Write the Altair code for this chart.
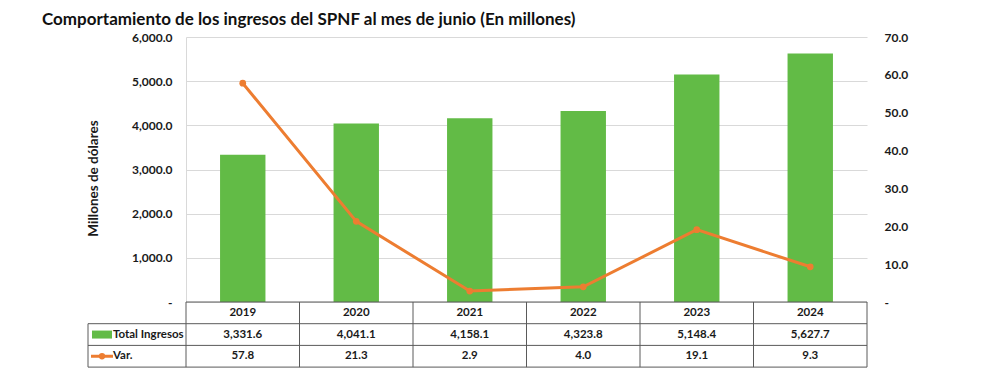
import altair as alt
import pandas as pd

# ---- data ----
years = ["2019", "2020", "2021", "2022", "2023", "2024"]
total_ingresos = [3331.6, 4041.1, 4158.1, 4323.8, 5148.4, 5627.7]
variacion = [57.8, 21.3, 2.9, 4.0, 19.1, 9.3]
series_names = ["Total Ingresos", "Var."]
left_ticks = [0, 1000, 2000, 3000, 4000, 5000, 6000]
right_ticks = [0, 10, 20, 30, 40, 50, 60, 70]
TITLE = "Comportamiento de los ingresos del SPNF al mes de junio (En millones)"
Y_TITLE = "Millones de dólares"

df = pd.DataFrame({"year": years, "total": total_ingresos, "var": variacion})
df["total_lbl"] = [f"{v:,.1f}" for v in total_ingresos]
df["var_lbl"] = [f"{v:.1f}" for v in variacion]

# ---- layout / style ----
W, H = 681, 265
ROW = 21.7
LEG_X = -98
FONT = "Lato"
GREEN = "#62bb46"
ORANGE = "#ed7d31"
GRID = "#d9d9d9"
TABLE = "#5a5a5a"
TXT = "#1a1a1a"

one = pd.DataFrame({"k": [0]})
xscale = alt.Scale(domain=years, paddingInner=0.6, paddingOuter=0.3)
X = alt.X("year:N", scale=xscale, axis=None)

bars = alt.Chart(df).mark_bar(color=GREEN).encode(
    x=X,
    y=alt.Y("total:Q", scale=alt.Scale(domain=[0, 6000]),
            axis=alt.Axis(values=left_ticks,
                          labelExpr="datum.value == 0 ? '-' : format(datum.value, ',.1f')",
                          title=Y_TITLE, grid=True, gridColor=GRID, domain=True,
                          domainColor=GRID, ticks=False, labelPadding=14,
                          labelFont=FONT, labelFontSize=12, labelFontWeight="bold",
                          labelColor=TXT, titleFont=FONT, titleFontSize=13.5,
                          titleFontWeight="bold", titleColor=TXT, titleAngle=-90,
                          titleX=-93, titleY=141, titleBaseline="middle",
                          titleAlign="center")),
)

yv = alt.Scale(domain=[0, 70])
line = alt.Chart(df).mark_line(color=ORANGE, strokeWidth=3).encode(
    x=X,
    y=alt.Y("var:Q", scale=yv,
            axis=alt.Axis(orient="right", values=right_ticks,
                          labelExpr="datum.value == 0 ? '-' : format(datum.value, '.1f')",
                          title=None, grid=False, domain=False, ticks=False,
                          labelPadding=17, labelFont=FONT, labelFontSize=12,
                          labelFontWeight="bold", labelColor=TXT)),
)
pts = alt.Chart(df).mark_point(color=ORANGE, filled=True, opacity=1, size=45).encode(
    x=X, y=alt.Y("var:Q", scale=yv, axis=None))

text_style = dict(font=FONT, fontSize=11.5, fontWeight="bold", color=TXT, baseline="middle")

hdr = alt.Chart(df).mark_text(**text_style).encode(
    x=X, y=alt.value(H + ROW / 2), text="year:N")
row1 = alt.Chart(df).mark_text(**text_style).encode(
    x=X, y=alt.value(H + 1.5 * ROW), text="total_lbl:N")
row2 = alt.Chart(df).mark_text(**text_style).encode(
    x=X, y=alt.value(H + 2.5 * ROW), text="var_lbl:N")

leg1 = alt.Chart(one).mark_text(text=series_names[0], align="left", **text_style).encode(
    x=alt.value(-73), y=alt.value(H + 1.5 * ROW))
leg2 = alt.Chart(one).mark_text(text=series_names[1], align="left", **text_style).encode(
    x=alt.value(-73), y=alt.value(H + 2.5 * ROW))
sw1 = alt.Chart(one).mark_rect(color=GREEN).encode(
    x=alt.value(-94), x2=alt.value(-74), y=alt.value(H + 1.5 * ROW - 4), y2=alt.value(H + 1.5 * ROW + 4))
sw2 = alt.Chart(one).mark_rule(color=ORANGE, strokeWidth=3).encode(
    x=alt.value(-95), x2=alt.value(-73), y=alt.value(H + 2.5 * ROW))
sw2p = alt.Chart(one).mark_point(color=ORANGE, filled=True, opacity=1, size=40).encode(
    x=alt.value(-84), y=alt.value(H + 2.5 * ROW))

# table grid lines
hlines = pd.DataFrame({
    "x1": [0, LEG_X, LEG_X, LEG_X],
    "yy": [H, H + ROW, H + 2 * ROW, H + 3 * ROW],
})
vlines = pd.DataFrame({
    "xx": [LEG_X] + [i * W / 6 for i in range(7)],
    "y1": [H + ROW] + [H] * 7,
})
hrule = alt.Chart(hlines).mark_rule(color=TABLE, strokeWidth=1).encode(
    x=alt.X("x1:Q", scale=None), x2=alt.value(W), y=alt.Y("yy:Q", scale=None))
vrule = alt.Chart(vlines).mark_rule(color=TABLE, strokeWidth=1).encode(
    x=alt.X("xx:Q", scale=None), y=alt.Y("y1:Q", scale=None), y2=alt.value(H + 3 * ROW))

title = alt.Chart(one).mark_text(text=TITLE, align="left", baseline="alphabetic",
                                 font=FONT, fontSize=17, fontWeight="bold", color="#111").encode(
    x=alt.value(-144), y=alt.value(-12))

chart = alt.layer(
    bars, line, pts, hrule, vrule, hdr, row1, row2, leg1, leg2, sw1, sw2, sw2p, title
).resolve_scale(y="independent").properties(
    width=W, height=H,
    autosize=alt.AutoSizeParams(type="none"),
    padding={"left": 178, "top": 29, "right": 115, "bottom": 66},
).configure_view(stroke=None)

chart.save("out.html", embed_options={"renderer": "svg", "actions": False})
